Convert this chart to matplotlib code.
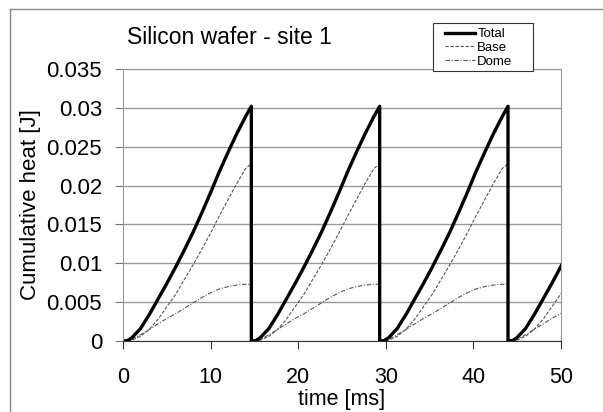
import numpy as np
import matplotlib.pyplot as plt
from matplotlib.lines import Line2D
from matplotlib.patches import Rectangle

plt.rcParams['font.family'] = ['Liberation Sans', 'DejaVu Sans']

# one heating cycle, time measured from the start of the cycle [ms]
cycle_t = [0, 0.5, 1, 2, 3, 4, 5, 6, 7, 8, 9, 10, 11, 12, 13, 14, 14.65]
total_cycle = [0, 0.00005, 0.0004, 0.0016, 0.0034, 0.0054, 0.0074, 0.0095, 0.0117,
               0.0140, 0.0165, 0.0191, 0.0218, 0.0243, 0.0267, 0.0289, 0.0302]
base_cycle = [0, 0.00002, 0.0001, 0.0006, 0.0015, 0.0028, 0.0044, 0.0060, 0.0079,
              0.0098, 0.0118, 0.0139, 0.0161, 0.0182, 0.0203, 0.0222, 0.0228]
dome_cycle = [0, 0.00003, 0.0002, 0.0008, 0.0015, 0.0022, 0.0029, 0.0035, 0.0042,
              0.0049, 0.0056, 0.0062, 0.0067, 0.0070, 0.0072, 0.0073, 0.0073]

# start time of each cycle [ms]
cycle_starts = [0, 14.65, 29.3, 43.95]
t_end = 50

yticks = [0, 0.005, 0.01, 0.015, 0.02, 0.025, 0.03, 0.035]
ytick_labels = ["0", "0.005", "0.01", "0.015", "0.02", "0.025", "0.03", "0.035"]
xticks = [0, 10, 20, 30, 40, 50]


def periodic(values):
    tt, vv = [], []
    for s in cycle_starts:
        tt.extend(np.array(cycle_t) + s)
        vv.extend(values)
    return np.array(tt), np.array(vv)


t, total = periodic(total_cycle)
_, base = periodic(base_cycle)
_, dome = periodic(dome_cycle)

fig = plt.figure(figsize=(6.03, 4.12), dpi=100)
ax = fig.add_axes([123 / 603, 1 - 341 / 412, 438 / 603, 272 / 412])

ax.plot(t, base, color='#555555', lw=0.8, dashes=(3, 1.5), label='Base')
ax.plot(t, dome, color='#555555', lw=0.8, dashes=(4, 1.5, 1, 1.5), label='Dome')
ax.plot(t, total, color='black', lw=2.4, label='Total')

ax.set_xlim(0, t_end)
ax.set_ylim(0, 0.035)
ax.set_yticks(yticks)
ax.set_yticklabels(ytick_labels)
ax.set_xticks(xticks)
ax.yaxis.grid(True, color='#999999', lw=1)
ax.set_axisbelow(True)

for side in ['left', 'right', 'top']:
    ax.spines[side].set_color('#999999')
ax.spines['bottom'].set_color('#333333')
ax.tick_params(axis='y', length=6, color='#777777', pad=9, labelsize=16)
ax.tick_params(axis='x', length=6, color='#333333', pad=13, labelsize=15.5)

fig.text(127 / 603, 1 - 37 / 412, "Silicon wafer - site 1", fontsize=16.5,
         ha='left', va='center')
fig.text(0.5 * (123 + 561) / 603, 1 - 400 / 412, "time [ms]", fontsize=15.5,
         ha='center', va='center')
fig.text(31 / 603, 1 - 205 / 412, "Cumulative heat [J]", fontsize=16,
         rotation=90, ha='center', va='center')

# legend box drawn separately so the text sits to its left side
fig.add_artist(Rectangle((433 / 603, 1 - 71 / 412), 100 / 603, 48 / 412,
                         transform=fig.transFigure, facecolor='white',
                         edgecolor='#333333', lw=0.8, zorder=3))
handles, labels = ax.get_legend_handles_labels()
order = [2, 0, 1]
leg = fig.legend([handles[i] for i in order], [labels[i] for i in order],
                 loc='upper left', bbox_to_anchor=(441 / 603, 1 - 24 / 412),
                 fontsize=9.5, frameon=False, handlelength=2.3,
                 handletextpad=0.15, labelspacing=0.12, borderpad=0.3,
                 borderaxespad=0)
leg.set_zorder(4)

# outer frame lines along the top and left edges
fig.add_artist(Line2D([10 / 603, 10 / 603], [0, 1 - 9 / 412], color='#888888', lw=1))
fig.add_artist(Line2D([10 / 603, 1], [1 - 9 / 412, 1 - 9 / 412], color='#888888', lw=1))

fig.savefig('out.png', dpi=100)
